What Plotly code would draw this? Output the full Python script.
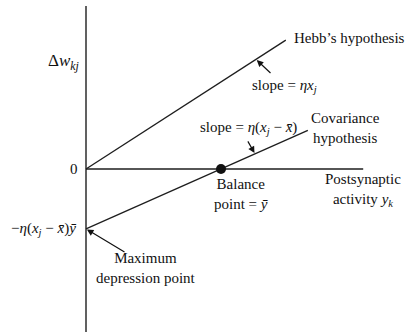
import plotly.graph_objects as go

# ---- data (in chart units) ----
y_bar = 3.0                 # balance point (mean postsynaptic activity)
hebb_slope = 0.645          # eta * x_j
cov_slope = 0.444           # eta * (x_j - x_bar)
hebb_x_end = 4.44
cov_x_end = 4.93
x_axis_end = 6.16
y_axis_top = 3.62
y_axis_bottom = -3.62

W, H = 407, 332
# pixel layout: origin at px (86,169), 45 px per unit
X0, Y0, S = 86, 169, 45.0
xr = [-X0 / S, (W - X0) / S]
yr = [-(H - Y0) / S, Y0 / S]

def P(px, py):
    return px / W, 1 - py / H

LC = "#1e1e1e"
FONT = "Liberation Serif"

fig = go.Figure()
# axes
fig.add_trace(go.Scatter(x=[0, 0], y=[y_axis_bottom, y_axis_top], mode="lines",
                         line=dict(color=LC, width=1.4), hoverinfo="skip"))
fig.add_trace(go.Scatter(x=[0, x_axis_end], y=[0, 0], mode="lines",
                         line=dict(color=LC, width=1.4), hoverinfo="skip"))
# Hebb line
fig.add_trace(go.Scatter(x=[0, hebb_x_end], y=[0, hebb_slope * hebb_x_end], mode="lines",
                         line=dict(color=LC, width=1.3), hoverinfo="skip"))
# Covariance line
fig.add_trace(go.Scatter(x=[0, cov_x_end],
                         y=[cov_slope * (0 - y_bar), cov_slope * (cov_x_end - y_bar)],
                         mode="lines", line=dict(color=LC, width=1.3), hoverinfo="skip"))
# balance point
fig.add_trace(go.Scatter(x=[y_bar], y=[0], mode="markers",
                         marker=dict(color="#111", size=10), hoverinfo="skip"))

ann = []
def text(px, py, t, xa="center", ya="middle", size=15, align="center"):
    x, y = P(px, py)
    ann.append(dict(x=x, y=y, xref="paper", yref="paper", text=t, showarrow=False,
                    xanchor=xa, yanchor=ya, align=align,
                    font=dict(family=FONT, size=size, color="#111")))

text(64, 62, "Δ<i>w</i><sub><i>kj</i></sub>", size=17)
text(80, 169, "0", xa="right")
text(78, 229, "−<i>η</i>(<i>x</i><sub><i>j</i></sub> − <i>x̄</i>)<i>ȳ</i>", xa="right")
text(146, 268, "Maximum<br>depression point")
text(292, 38, "Hebb’s hypothesis", xa="left")
text(284, 86, "slope = <i>ηx</i><sub><i>j</i></sub>")
text(248, 128, "slope = <i>η</i>(<i>x</i><sub><i>j</i></sub> − <i>x̄</i>)")
text(345, 128, "Covariance<br>hypothesis")
text(241, 194, "Balance<br>point = <i>ȳ</i>")
text(363, 190, "Postsynaptic<br>activity <i>y</i><sub><i>k</i></sub>")

# arrows
def arrow(xd, yd, ax, ay):
    ann.append(dict(x=xd, y=yd, xref="x", yref="y", ax=ax, ay=ay, text="",
                    showarrow=True, arrowhead=2, arrowsize=1.1, arrowwidth=1.2,
                    arrowcolor="#111", standoff=1))

arrow(0, cov_slope * (0 - y_bar), 40, 24)
hx = (256 - X0) / S
arrow(hx, hebb_slope * hx, 16, 15)
cx = (255 - X0) / S
arrow(cx, cov_slope * (cx - y_bar), -8, -14)

fig.update_layout(
    width=W, height=H, margin=dict(l=0, r=0, t=0, b=0),
    font=dict(family=FONT, size=15, color="#111"),
    paper_bgcolor="white", plot_bgcolor="white", showlegend=False,
    xaxis=dict(range=xr, visible=False, fixedrange=True),
    yaxis=dict(range=yr, visible=False, fixedrange=True),
    annotations=ann,
)
fig.write_html("out.html", config={"displayModeBar": False},
               post_script="document.body.style.margin='0';document.body.style.overflow='hidden';")
